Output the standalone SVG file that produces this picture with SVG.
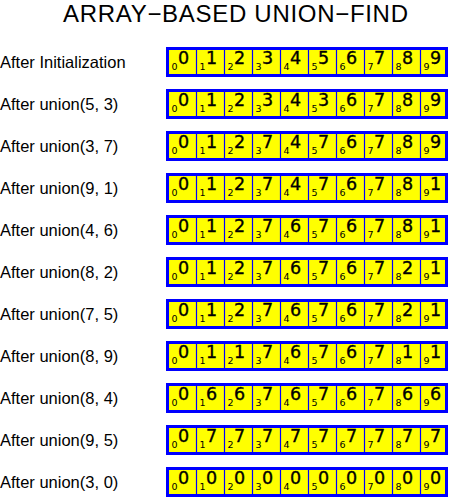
<svg xmlns="http://www.w3.org/2000/svg" width="450" height="498" viewBox="0 0 450 498">
<style>
.title{font-family:"Liberation Sans",Arial,sans-serif;font-size:24px;fill:#000}
.lbl{font-family:"Liberation Sans",Arial,sans-serif;font-size:16.5px;fill:#000}
.box{fill:#ffff00;stroke:#0000ff;stroke-width:3}
.div{stroke:#0000ff;stroke-width:1.2}
.big{font-family:"DejaVu Sans",sans-serif;font-size:17.5px;fill:#000;stroke:#000;stroke-width:0.35}
.sm{font-family:"DejaVu Sans",sans-serif;font-size:9.5px;fill:#000}
</style>
<rect width="450" height="498" fill="#fff"/>
<text class="title" x="235.5" y="22" text-anchor="middle" textLength="345" lengthAdjust="spacing">ARRAY−BASED UNION−FIND</text>
<defs>
<g id="cells">
<rect class="box" x="167.5" y="0" width="279" height="27"/>
<path class="div" d="M196.5 0V27M224.5 0V27M252.5 0V27M280.5 0V27M308.5 0V27M336.5 0V27M364.5 0V27M392.5 0V27M420.5 0V27"/>
<text class="sm" y="21.5"><tspan x="171.5">0</tspan><tspan x="199.5">1</tspan><tspan x="227.5">2</tspan><tspan x="255.5">3</tspan><tspan x="283.5">4</tspan><tspan x="311.5">5</tspan><tspan x="339.5">6</tspan><tspan x="367.5">7</tspan><tspan x="395.5">8</tspan><tspan x="423.5">9</tspan></text>
</g>
</defs>
<g id="row0" transform="translate(0,48.5)">
<text class="lbl" x="0" y="19.5">After Initialization</text>
<use href="#cells"/>
<text class="big" y="15.5"><tspan x="178">0</tspan><tspan x="206">1</tspan><tspan x="234">2</tspan><tspan x="262">3</tspan><tspan x="290">4</tspan><tspan x="318">5</tspan><tspan x="346">6</tspan><tspan x="374">7</tspan><tspan x="402">8</tspan><tspan x="430">9</tspan></text>
</g>
<g id="row1" transform="translate(0,90.5)">
<text class="lbl" x="0" y="19.5">After union(5, 3)</text>
<use href="#cells"/>
<text class="big" y="15.5"><tspan x="178">0</tspan><tspan x="206">1</tspan><tspan x="234">2</tspan><tspan x="262">3</tspan><tspan x="290">4</tspan><tspan x="318">3</tspan><tspan x="346">6</tspan><tspan x="374">7</tspan><tspan x="402">8</tspan><tspan x="430">9</tspan></text>
</g>
<g id="row2" transform="translate(0,132.5)">
<text class="lbl" x="0" y="19.5">After union(3, 7)</text>
<use href="#cells"/>
<text class="big" y="15.5"><tspan x="178">0</tspan><tspan x="206">1</tspan><tspan x="234">2</tspan><tspan x="262">7</tspan><tspan x="290">4</tspan><tspan x="318">7</tspan><tspan x="346">6</tspan><tspan x="374">7</tspan><tspan x="402">8</tspan><tspan x="430">9</tspan></text>
</g>
<g id="row3" transform="translate(0,174.5)">
<text class="lbl" x="0" y="19.5">After union(9, 1)</text>
<use href="#cells"/>
<text class="big" y="15.5"><tspan x="178">0</tspan><tspan x="206">1</tspan><tspan x="234">2</tspan><tspan x="262">7</tspan><tspan x="290">4</tspan><tspan x="318">7</tspan><tspan x="346">6</tspan><tspan x="374">7</tspan><tspan x="402">8</tspan><tspan x="430">1</tspan></text>
</g>
<g id="row4" transform="translate(0,216.5)">
<text class="lbl" x="0" y="19.5">After union(4, 6)</text>
<use href="#cells"/>
<text class="big" y="15.5"><tspan x="178">0</tspan><tspan x="206">1</tspan><tspan x="234">2</tspan><tspan x="262">7</tspan><tspan x="290">6</tspan><tspan x="318">7</tspan><tspan x="346">6</tspan><tspan x="374">7</tspan><tspan x="402">8</tspan><tspan x="430">1</tspan></text>
</g>
<g id="row5" transform="translate(0,258.5)">
<text class="lbl" x="0" y="19.5">After union(8, 2)</text>
<use href="#cells"/>
<text class="big" y="15.5"><tspan x="178">0</tspan><tspan x="206">1</tspan><tspan x="234">2</tspan><tspan x="262">7</tspan><tspan x="290">6</tspan><tspan x="318">7</tspan><tspan x="346">6</tspan><tspan x="374">7</tspan><tspan x="402">2</tspan><tspan x="430">1</tspan></text>
</g>
<g id="row6" transform="translate(0,300.5)">
<text class="lbl" x="0" y="19.5">After union(7, 5)</text>
<use href="#cells"/>
<text class="big" y="15.5"><tspan x="178">0</tspan><tspan x="206">1</tspan><tspan x="234">2</tspan><tspan x="262">7</tspan><tspan x="290">6</tspan><tspan x="318">7</tspan><tspan x="346">6</tspan><tspan x="374">7</tspan><tspan x="402">2</tspan><tspan x="430">1</tspan></text>
</g>
<g id="row7" transform="translate(0,342.5)">
<text class="lbl" x="0" y="19.5">After union(8, 9)</text>
<use href="#cells"/>
<text class="big" y="15.5"><tspan x="178">0</tspan><tspan x="206">1</tspan><tspan x="234">1</tspan><tspan x="262">7</tspan><tspan x="290">6</tspan><tspan x="318">7</tspan><tspan x="346">6</tspan><tspan x="374">7</tspan><tspan x="402">1</tspan><tspan x="430">1</tspan></text>
</g>
<g id="row8" transform="translate(0,384.5)">
<text class="lbl" x="0" y="19.5">After union(8, 4)</text>
<use href="#cells"/>
<text class="big" y="15.5"><tspan x="178">0</tspan><tspan x="206">6</tspan><tspan x="234">6</tspan><tspan x="262">7</tspan><tspan x="290">6</tspan><tspan x="318">7</tspan><tspan x="346">6</tspan><tspan x="374">7</tspan><tspan x="402">6</tspan><tspan x="430">6</tspan></text>
</g>
<g id="row9" transform="translate(0,426.5)">
<text class="lbl" x="0" y="19.5">After union(9, 5)</text>
<use href="#cells"/>
<text class="big" y="15.5"><tspan x="178">0</tspan><tspan x="206">7</tspan><tspan x="234">7</tspan><tspan x="262">7</tspan><tspan x="290">7</tspan><tspan x="318">7</tspan><tspan x="346">7</tspan><tspan x="374">7</tspan><tspan x="402">7</tspan><tspan x="430">7</tspan></text>
</g>
<g id="row10" transform="translate(0,468.5)">
<text class="lbl" x="0" y="19.5">After union(3, 0)</text>
<use href="#cells"/>
<text class="big" y="15.5"><tspan x="178">0</tspan><tspan x="206">0</tspan><tspan x="234">0</tspan><tspan x="262">0</tspan><tspan x="290">0</tspan><tspan x="318">0</tspan><tspan x="346">0</tspan><tspan x="374">0</tspan><tspan x="402">0</tspan><tspan x="430">0</tspan></text>
</g>
</svg>
